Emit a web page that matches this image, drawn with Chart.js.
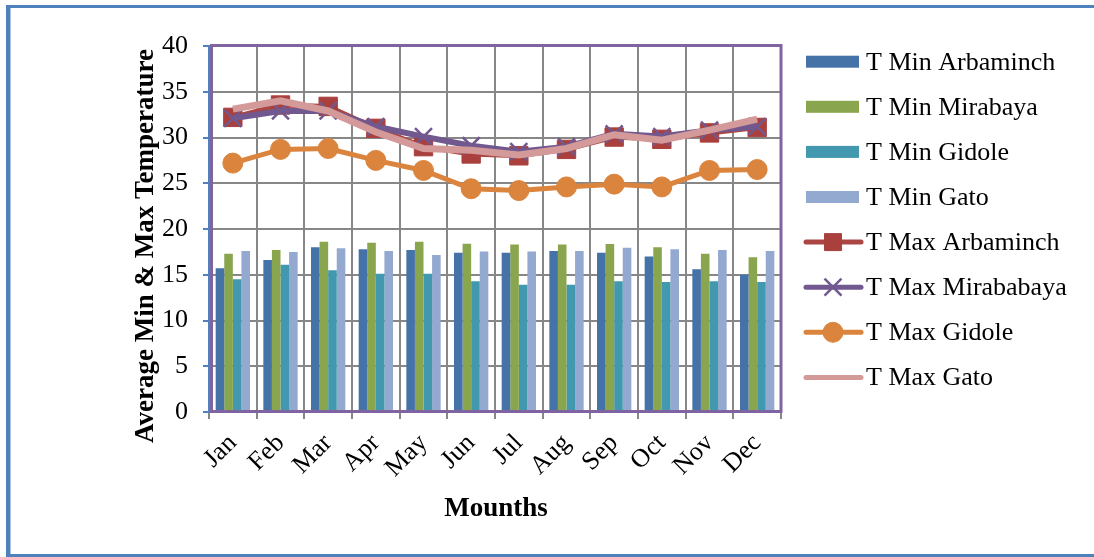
<!DOCTYPE html>
<html>
<head>
<meta charset="utf-8">
<script src="https://cdn.jsdelivr.net/npm/chart.js@4.4.1/dist/chart.umd.min.js"></script>
<style>
  html, body { margin: 0; padding: 0; background: #ffffff; overflow: hidden; }
  #wrap { position: relative; width: 1094px; height: 557px; }
  #c { display: block; }
</style>
</head>
<body>
<div id="wrap"><canvas id="c" width="1094" height="557"></canvas></div>
<script>
// Monthly average temperatures (°C) for four stations
const months = ['Jan', 'Feb', 'Mar', 'Apr', 'May', 'Jun', 'Jul', 'Aug', 'Sep', 'Oct', 'Nov', 'Dec'];
const tMinArbaminch = [15.7, 16.6, 18.0, 17.8, 17.7, 17.4, 17.4, 17.6, 17.4, 17.0, 15.6, 15.0];
const tMinMirabaya  = [17.3, 17.7, 18.6, 18.5, 18.6, 18.4, 18.3, 18.3, 18.35, 18.0, 17.3, 16.9];
const tMinGidole    = [14.5, 16.1, 15.5, 15.1, 15.1, 14.3, 13.9, 13.9, 14.3, 14.2, 14.3, 14.2];
const tMinGato      = [17.6, 17.5, 17.9, 17.6, 17.15, 17.55, 17.55, 17.6, 17.95, 17.8, 17.7, 17.6];
const tMaxArbaminch = [32.2, 33.55, 33.4, 31.0, 29.0, 28.2, 28.0, 28.7, 30.05, 29.8, 30.5, 31.1];
const tMaxMirababaya = [32.1, 32.9, 32.9, 31.2, 30.1, 29.1, 28.45, 29.0, 30.4, 30.1, 30.8, 31.2];
const tMaxGidole    = [27.2, 28.7, 28.8, 27.5, 26.4, 24.4, 24.2, 24.6, 24.9, 24.6, 26.4, 26.5];
const tMaxGato      = [33.1, 34.0, 32.9, 30.6, 28.8, 28.6, 28.1, 28.8, 30.3, 29.7, 30.8, 32.0];
const yTicks = [0, 5, 10, 15, 20, 25, 30, 35, 40];
const yTitle = 'Average Min & Max Temperature';
const xTitle = 'Mounths';

const SERIF = "'Liberation Serif', 'Times New Roman', serif";
const GRID = '#878787';
const AXIS_BLUE = '#4F81BD';
const PLOT_BORDER = '#8064A2';

function barSet(label, data, color) {
  return { type: 'bar', label, data, backgroundColor: color, borderWidth: 0, order: 10,
           categoryPercentage: 0.72, barPercentage: 1.0, legendKind: 'bar' };
}
function lineSet(label, data, color, width, style, radius, pointColor, order) {
  return { type: 'line', label, data, borderColor: color, borderWidth: width, fill: false, tension: 0,
           pointStyle: style || 'circle', pointRadius: radius, pointHoverRadius: radius,
           pointBackgroundColor: pointColor || color, pointBorderColor: pointColor || color,
           pointBorderWidth: style === 'crossRot' ? 2.5 : 1, order, legendKind: 'line' };
}

const datasets = [
  barSet('T Min Arbaminch', tMinArbaminch, '#4572A7'),
  barSet('T Min Mirabaya', tMinMirabaya, '#89A54E'),
  barSet('T Min Gidole', tMinGidole, '#4198AF'),
  barSet('T Min Gato', tMinGato, '#93A9CF'),
  lineSet('T Max Arbaminch', tMaxArbaminch, '#AA4643', 5, 'rect', 13, '#A9403D', 4),
  lineSet('T Max Mirababaya', tMaxMirababaya, '#71588F', 6, 'crossRot', 12, '#71588F', 3),
  lineSet('T Max Gidole', tMaxGidole, '#DB843D', 5, 'circle', 10, '#DB843D', 2),
  lineSet('T Max Gato', tMaxGato, '#D49A99', 7, 'circle', 0, '#D49A99', 1)
];

// Frame, plot border, axis titles and legend
const decorations = {
  id: 'decorations',
  beforeDraw(chart) {
    const ctx = chart.ctx;
    ctx.save();
    ctx.fillStyle = '#ffffff';
    ctx.fillRect(0, 0, chart.width, chart.height);
    ctx.fillStyle = AXIS_BLUE;
    ctx.fillRect(6, 5, 4, 552);       // left edge of frame
    ctx.fillRect(6, 5, 1088, 3);      // top edge
    ctx.fillRect(6, 554, 1088, 3);    // bottom edge
    ctx.fillStyle = '#A9C2E3';
    ctx.fillRect(10, 8, 1, 546);
    ctx.restore();
  },
  afterDatasetsDraw(chart) {
    const ctx = chart.ctx;
    const a = chart.chartArea;
    ctx.save();
    ctx.strokeStyle = PLOT_BORDER;
    ctx.lineWidth = 3;
    ctx.strokeRect(a.left + 2.5, a.top - 0.5, a.right - a.left - 2.5, a.bottom - a.top);
    ctx.strokeStyle = AXIS_BLUE;
    ctx.lineWidth = 2;
    ctx.beginPath();
    ctx.moveTo(a.left, a.top);
    ctx.lineTo(a.left, a.bottom + 1);
    ctx.stroke();
    ctx.restore();
  },
  afterDraw(chart) {
    const ctx = chart.ctx;
    const a = chart.chartArea;
    ctx.save();
    ctx.fillStyle = '#000000';
    ctx.font = 'bold 27px ' + SERIF;
    ctx.textAlign = 'center';
    ctx.textBaseline = 'middle';
    ctx.save();
    ctx.translate(146, 246);
    ctx.rotate(-Math.PI / 2);
    ctx.fillText(yTitle, 0, 0);
    ctx.restore();
    ctx.fillText(xTitle, (a.left + a.right) / 2 + 1, 509);

    // legend
    const x0 = 806, swW = 53, textX = 866, y0 = 61.7, step = 45.1;
    ctx.font = '26px ' + SERIF;
    ctx.textAlign = 'left';
    ctx.textBaseline = 'alphabetic';
    chart.data.datasets.forEach((ds, i) => {
      const y = y0 + i * step;
      if (ds.legendKind === 'bar') {
        ctx.fillStyle = ds.backgroundColor;
        ctx.fillRect(x0, y - 6, swW, 12);
      } else {
        ctx.strokeStyle = ds.borderColor;
        ctx.lineWidth = 5;
        ctx.lineCap = 'round';
        ctx.beginPath();
        ctx.moveTo(x0, y);
        ctx.lineTo(x0 + swW + 2, y);
        ctx.stroke();
        ctx.lineCap = 'butt';
        if (ds.pointRadius > 0) {
          ctx.fillStyle = ds.pointBackgroundColor;
          ctx.strokeStyle = ds.pointBorderColor;
          ctx.lineWidth = ds.pointBorderWidth;
          Chart.helpers.drawPoint(ctx, {
            pointStyle: ds.pointStyle,
            radius: ds.pointStyle === 'rect' ? 12 : ds.pointRadius,
            rotation: 0,
            borderWidth: ds.pointBorderWidth
          }, x0 + 27, y);
        }
      }
      ctx.fillStyle = '#000000';
      ctx.fillText(ds.label, textX, y + 8);
    });
    ctx.restore();
  }
};

new Chart(document.getElementById('c'), {
  data: { labels: months, datasets },
  options: {
    responsive: false,
    animation: false,
    devicePixelRatio: 1,
    layout: { padding: { left: 0, right: 313, top: 46, bottom: 0 } },
    plugins: { legend: { display: false }, tooltip: { enabled: false } },
    scales: {
      x: {
        offset: true,
        grid: { offset: true, color: GRID, lineWidth: 2, tickLength: 7, tickColor: GRID, drawOnChartArea: true },
        border: { display: false },
        ticks: { font: { family: SERIF, size: 26 }, color: '#000000', minRotation: 45, maxRotation: 45,
                 autoSkip: false, padding: 9 },
        afterFit(s) { s.height = 145; }
      },
      y: {
        min: 0, max: 40,
        afterBuildTicks(s) { s.ticks = yTicks.map(v => ({ value: v })); },
        ticks: { font: { family: SERIF, size: 26 }, color: '#000000', padding: 15 },
        grid: { color: GRID, lineWidth: 2, tickLength: 6, tickColor: AXIS_BLUE },
        border: { display: false },
        afterFit(s) { s.width = 209; }
      }
    }
  },
  plugins: [decorations]
});
</script>
</body>
</html>
